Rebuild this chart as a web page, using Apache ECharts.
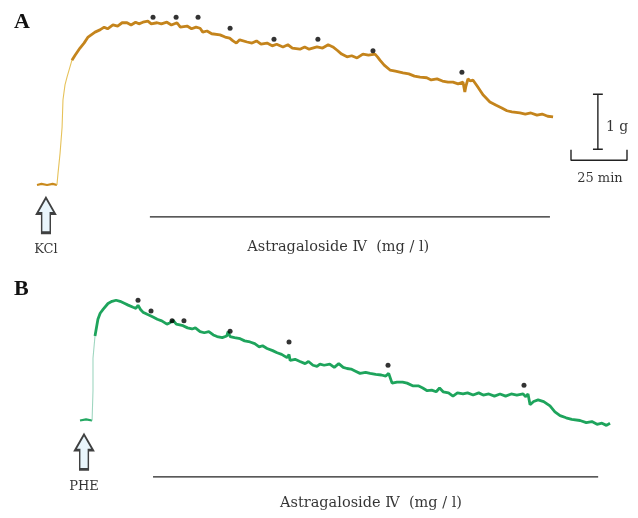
<!DOCTYPE html>
<html><head><meta charset="utf-8">
<script src="https://cdn.jsdelivr.net/npm/echarts@6/dist/echarts.min.js"></script>
<style>html,body{margin:0;padding:0;background:#fff}#c{width:638px;height:518px}</style>
</head><body><div id="c"></div>
<script>
// ---- Panel A (KCl pre-contraction): time in min, tension in g ----
const baseA = [[0,0],[2,0.02],[4.5,0.0],[7,0.02],[8.9,0]];
const riseA = [[8.9,0],[9.4,0.22],[10.3,0.58],[11.2,1.05],[11.6,1.55],[12.5,1.82],[13.4,1.96],[15.6,2.27]];
const traceA = [[15.6,2.27],[17.0,2.36],[19.2,2.49],[21.0,2.58],[22.8,2.69],[24.5,2.74],[25.9,2.78],[28.1,2.82],[30.0,2.87],[31.5,2.84],[33.9,2.91],[36.0,2.89],[38.0,2.95],[40.2,2.95],[42.0,2.91],[44.0,2.96],[45.5,2.93],[47.3,2.96],[49.5,2.98],[51.0,2.93],[53.6,2.95],[55.5,2.93],[58.0,2.96],[60.0,2.91],[62.5,2.95],[64.0,2.87],[67.0,2.89],[69.0,2.84],[71.0,2.87],[72.8,2.85],[74.0,2.78],[75.9,2.80],[78.0,2.75],[81.7,2.73],[84.0,2.69],[86.0,2.67],[87.5,2.62],[89.0,2.58],[90.5,2.64],[93.8,2.60],[96.0,2.58],[98.0,2.62],[100.0,2.56],[102.7,2.58],[105.0,2.53],[107.0,2.56],[109.8,2.51],[112.0,2.55],[114.0,2.49],[117.4,2.47],[119.5,2.51],[121.5,2.47],[125.0,2.51],[127.5,2.49],[130.0,2.55],[132.1,2.51],[134.0,2.45],[136.0,2.38],[138.4,2.33],[140.5,2.35],[142.9,2.31],[145.5,2.38],[148.0,2.36],[150.9,2.38],[152.0,2.33],[153.1,2.27],[155.0,2.18],[157.6,2.09],[160.0,2.07],[163.4,2.04],[166.0,2.02],[168.5,1.98],[171.0,1.96],[174.0,1.95],[176.0,1.91],[178.6,1.93],[181.0,1.89],[183.5,1.87],[185.7,1.87],[188.0,1.84],[190.2,1.87],[191.0,1.69],[191.5,1.80],[192.4,1.93],[193.5,1.89],[194.6,1.91],[196.5,1.80],[199.1,1.64],[202.2,1.51],[205.0,1.45],[207.5,1.40],[209.8,1.35],[212.0,1.33],[215.6,1.31],[218.0,1.29],[220.5,1.31],[223.2,1.27],[225.5,1.29],[228.0,1.25],[230.4,1.24]];
const dotsA = [[51.8,3.05],[62.1,3.05],[71.9,3.05],[86.2,2.85],[105.8,2.65],[125.4,2.65],[150.0,2.44],[189.7,2.05]];
const kclTimeA = 4.0;          // time of KCl addition (arrow)
const drugA = [50.4, 229.0];   // Astragaloside IV application period

// ---- Panel B (PHE pre-contraction) ----
const baseB = [[0,0],[2.7,0.02],[5.4,0]];
const riseB = [[5.4,0],[5.8,0.55],[5.8,1.15],[6.7,1.56]];
const traceB = [[6.7,1.56],[8.0,1.87],[9.0,1.98],[10.3,2.05],[12.5,2.16],[14.3,2.20],[16.1,2.22],[17.9,2.20],[20.0,2.16],[21.5,2.13],[23.7,2.09],[25.0,2.07],[25.9,2.13],[27.0,2.05],[28.1,2.00],[30.0,1.96],[32.6,1.91],[34.5,1.87],[36.5,1.84],[38.8,1.78],[40.0,1.80],[41.5,1.85],[43.0,1.78],[46.0,1.75],[48.0,1.71],[50.0,1.69],[51.5,1.71],[53.6,1.64],[55.5,1.62],[57.5,1.64],[59.5,1.58],[61.2,1.55],[63.5,1.53],[65.5,1.56],[66.1,1.64],[67.0,1.55],[69.0,1.53],[71.5,1.51],[73.5,1.47],[75.9,1.45],[78.0,1.42],[80.0,1.36],[81.5,1.38],[83.5,1.33],[86.0,1.29],[88.0,1.25],[90.0,1.22],[92.4,1.16],[93.3,1.22],[93.8,1.11],[96.0,1.13],[98.2,1.09],[100.5,1.05],[102.0,1.09],[104.0,1.02],[105.8,1.00],[107.1,1.04],[109.0,1.02],[111.5,1.04],[113.5,0.98],[115.5,1.05],[117.5,0.98],[119.2,0.96],[121.0,0.95],[123.0,0.91],[125.0,0.87],[127.5,0.89],[129.5,0.87],[132.0,0.85],[134.5,0.84],[136.5,0.82],[137.8,0.87],[138.4,0.84],[139.3,0.69],[141.5,0.71],[144.0,0.71],[146.0,0.69],[148.5,0.64],[151.0,0.64],[153.0,0.60],[155.0,0.55],[157.0,0.56],[159.0,0.53],[160.5,0.60],[162.1,0.53],[164.5,0.51],[166.5,0.45],[168.5,0.51],[171.0,0.49],[173.0,0.51],[175.5,0.47],[178.0,0.51],[180.0,0.47],[182.5,0.49],[185.0,0.45],[187.5,0.49],[190.0,0.45],[192.5,0.49],[195.0,0.47],[197.8,0.49],[199.0,0.44],[200.0,0.49],[200.9,0.29],[202.5,0.35],[204.5,0.38],[207.0,0.35],[209.8,0.27],[212.0,0.16],[214.3,0.09],[217.0,0.05],[219.5,0.02],[223.2,0.0],[226.0,-0.04],[228.5,-0.02],[230.8,-0.07],[233.0,-0.05],[235.0,-0.09],[236.6,-0.05]];
const dotsB = [[25.9,2.22],[31.7,2.02],[41.1,1.84],[46.4,1.84],[67.0,1.65],[93.3,1.45],[137.5,1.02],[198.2,0.65]];
const pheTimeB = 1.8;
const drugB = [32.6, 231.3];

// ---- Scale bar (panel A units) ----
const scaleG = 1;      // g
const scaleMin = 25;   // min
const scaleX = 250.4, scaleTop = 1.65, scaleLeft = 238.4, scaleBottom = 0.45;

const labelDrug = 'Astragaloside Ⅳ  (mg / l)';
const labelKCl = 'KCl';
const labelPHE = 'PHE';

const serif = "'DejaVu Serif','Liberation Serif',serif";
const ARROW = 'path://M50,0 L100,45 L74,45 L74,100 L26,100 L26,45 L0,45 Z';

function trace(data, gi, color, width, z) {
  return {type:'line', xAxisIndex:gi, yAxisIndex:gi, data:data, symbol:'none', smooth:false,
    lineStyle:{color:color, width:width}, z:z||2, silent:true};
}
function dots(data, gi) {
  return {type:'scatter', xAxisIndex:gi, yAxisIndex:gi, data:data, symbol:'circle', symbolSize:5,
    itemStyle:{color:'#000'}, z:5, silent:true};
}
function text(gi, x, y, str, size, align) {
  return {type:'scatter', xAxisIndex:gi, yAxisIndex:gi, data:[[x,y]], symbolSize:1,
    itemStyle:{color:'rgba(0,0,0,0)'}, silent:true,
    label:{show:true, position:'inside', formatter:str, color:'#000', fontFamily:serif, fontSize:size, align:align||'center'}};
}
function arrow(gi, t, y, str) {
  return {type:'scatter', xAxisIndex:gi, yAxisIndex:gi, data:[[t,y]], symbol:ARROW, symbolSize:[18,35], symbolKeepAspect:false,
    itemStyle:{color:'#e4f3fa', borderColor:'#111', borderWidth:2}, silent:true,
    label:{show:true, position:'bottom', distance:9, formatter:str, color:'#000', fontFamily:serif, fontSize:13}};
}
function hline(gi, range, y) {
  return {type:'line', xAxisIndex:gi, yAxisIndex:gi, data:[[range[0],y],[range[1],y]], symbol:'none',
    lineStyle:{color:'#222', width:1.4}, silent:true};
}

const chart = echarts.init(document.getElementById('c'), null, {renderer:'canvas'});
chart.setOption({
  animation:false,
  backgroundColor:'#fff',
  grid:[
    {left:37, top:9, width:600.3, height:258.5},
    {left:80, top:258, width:557.8, height:264}
  ],
  xAxis:[
    {gridIndex:0, type:'value', min:0, max:268, show:false},
    {gridIndex:1, type:'value', min:0, max:249, show:false}
  ],
  yAxis:[
    {gridIndex:0, type:'value', min:-1.5, max:3.2, show:false},
    {gridIndex:1, type:'value', min:-1.8, max:3.0, show:false}
  ],
  graphic:[
    {type:'text', left:14, top:11, style:{text:'A', font:"bold 22px 'Liberation Serif', serif", fill:'#111'}},
    {type:'text', left:14, top:278, style:{text:'B', font:"bold 22px 'Liberation Serif', serif", fill:'#111'}}
  ],
  series:[
    trace(baseA, 0, '#c98a1d', 2.2),
    trace(riseA, 0, '#e6c25a', 1.1),
    trace(traceA, 0, '#c4841c', 2.8, 3),
    dots(dotsA, 0),
    arrow(0, kclTimeA, -0.55, labelKCl),
    hline(0, drugA, -0.58),
    text(0, 134.5, -1.13, labelDrug, 14.5),
    // scale bar
    {type:'line', xAxisIndex:0, yAxisIndex:0, symbol:'none', silent:true, lineStyle:{color:'#222', width:1.4},
      data:[[scaleX-2.2,scaleTop],[scaleX+2.2,scaleTop],'-',[scaleX,scaleTop],[scaleX,scaleTop-scaleG],'-',[scaleX-2.2,scaleTop-scaleG],[scaleX+2.2,scaleTop-scaleG]]},
    {type:'line', xAxisIndex:0, yAxisIndex:0, symbol:'none', silent:true, lineStyle:{color:'#222', width:1.4},
      data:[[scaleLeft,scaleBottom+0.19],[scaleLeft,scaleBottom],[scaleLeft+scaleMin,scaleBottom],[scaleLeft+scaleMin,scaleBottom+0.19]]},
    text(0, 254.0, 1.04, scaleG + ' g', 14, 'left'),
    text(0, 251.3, 0.12, scaleMin + ' min', 13),
    // panel B
    trace(baseB, 1, '#23a862', 2.2),
    trace(riseB, 1, '#9fd6c0', 1.1),
    trace(traceB, 1, '#1ea45c', 2.8, 3),
    dots(dotsB, 1),
    arrow(1, pheTimeB, -0.58, labelPHE),
    hline(1, drugB, -1.04),
    text(1, 129.9, -1.53, labelDrug, 14.5)
  ]
});
</script></body></html>
